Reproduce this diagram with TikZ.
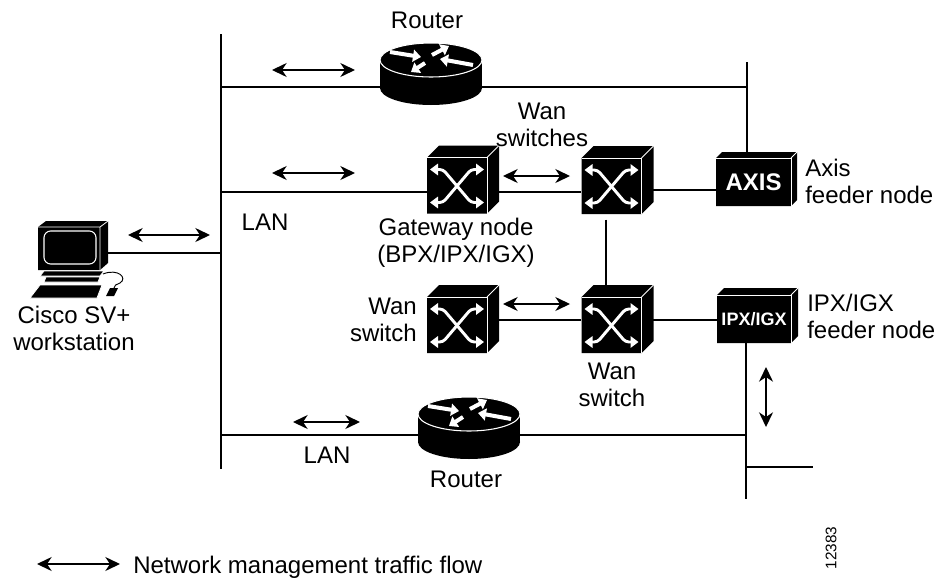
\documentclass[tikz,border=0pt]{standalone}
\usepackage{fontspec}
\setmainfont{Liberation Sans}
\usetikzlibrary{arrows.meta}
\pgfdeclarelayer{wires}
\pgfsetlayers{wires,main}

\tikzset{
  lan/.style={line width=0.9pt},
  trunk/.style={line width=2pt},
  flow/.style={line width=1.1pt,
    {Stealth[length=11pt,width=10.5pt,inset=3.5pt]}-{Stealth[length=11pt,width=10.5pt,inset=3.5pt]}},
  lbl/.style={font=\fontsize{18}{20}\selectfont, inner sep=0pt, align=center},
  devnode/.style 2 args={inner sep=0pt, minimum width=#1*0.75pt, minimum height=#2*0.75pt},
  faceedge/.style={white, line width=0.6pt},
  xarrow/.style={white, line width=2.2pt, rounded corners=2.5pt,
    {Triangle[length=6pt,width=8.5pt]}-{Triangle[length=6pt,width=8.5pt]}},
  rarrow/.style={white, line width=3pt, -{Triangle[length=6pt,width=9pt]}},
  % black box seen in perspective; origin at the centre of the front face
  pics/cube/.style n args={3}{code={
    \fill (-#1/2,-#2/2) -- ++(#3,-#3) -- ++(#1,0) -- ++(0,#2) -- ++(-#3,#3) -- ++(-#1,0) -- cycle;
    \draw[faceedge] (-#1/2,-#2/2) -- ++(#1,0) -- ++(0,#2);
    \draw[faceedge] (#1/2,-#2/2) -- ++(#3,-#3);
  }},
  % WAN switch: cube with the crossed arrows on its front
  pics/xswitch/.style={code={
    \path pic {cube={60}{56}{12}};
    \draw[xarrow] (-27,-16) -- (-14,-16) -- (14,17) -- (27,17);
    \draw[xarrow] (27,-16) -- (14,-16) -- (-14,17) -- (-27,17);
  }},
  % router: flat cylinder with four arrows on the lid
  pics/router/.style={code={
    \fill (0,14) ellipse [x radius=51, y radius=17];
    \fill (-51,-14) rectangle (51,14);
    \filldraw[draw=white, line width=0.8pt] (0,-14) ellipse [x radius=51, y radius=17];
    \draw[rarrow] (-41,-22) -- (-10,-17);
    \draw[rarrow] (1,-19) -- (18,-28);
    \draw[rarrow] (42,-9) -- (9,-15);
    \draw[rarrow] (-6,-11) -- (-20,-2);
  }},
}

\begin{document}
\begin{tikzpicture}[x=0.75pt,y=-0.75pt]
\useasboundingbox (0,0) rectangle (938,578);

% ---------- workstation ----------
\fill (38,227) -- (46,221) -- (108,221) -- (108,263) -- (100,270) -- (38,270) -- cycle;
\draw[faceedge] (38,227) -- (100,227) -- (100,270) (100,227) -- (108,221);
\draw[white, line width=0.8pt, rounded corners=5pt] (44,231) rectangle (96,264);
\filldraw[draw=white, line width=0.6pt] (40,276) -- (44,271) -- (104,271) -- (100,276) -- cycle;
\filldraw[draw=white, line width=0.6pt] (44,282) -- (46,277) -- (100,277) -- (98,282) -- cycle;
\filldraw[draw=white, line width=0.6pt] (30,298) -- (40,285) -- (102,285) -- (97,298) -- cycle;
\fill (106,296) -- (110,288) -- (118,288) -- (114,296) -- cycle;
\draw[line width=0.7pt] (103,274) .. controls (118,268) and (128,278) .. (120,283)
  .. controls (116,285) and (114,285) .. (114,288);
\node[devnode={70}{49}] (ws) at (73,245.5) {};

% ---------- routers ----------
\pic at (431,74) {router};
\node[devnode={102}{62}] (r1) at (431,74) {};
\pic at (469,428) {router};
\node[devnode={102}{62}] (r2) at (469,428) {};

% ---------- WAN switches ----------
\pic at (457,185.5) {xswitch};
\node[devnode={60}{56}] (gw) at (457,185.5) {};
\pic at (611.5,186) {xswitch};
\node[devnode={60}{56}] (sw2) at (611.5,186) {};
\pic at (611.5,325) {xswitch};
\node[devnode={60}{56}] (sw3) at (611.5,325) {};
\pic at (457,325) {xswitch};
\node[devnode={60}{56}] (sw4) at (457,325) {};

% ---------- feeder nodes ----------
\pic at (753.5,182) {cube={75}{48}{6}};
\node[devnode={75}{48}, text=white, font=\bfseries\fontsize{18}{18}\selectfont] (axis) at (753.5,182) {AXIS};
\pic at (754,319) {cube={74}{48}{7}};
\node[devnode={74}{48}, text=white, font=\bfseries\fontsize{13.5}{13.5}\selectfont] (ipx) at (754,319) {IPX/IGX};

% ---------- bus points ----------
\coordinate (lanT) at (221,34);
\coordinate (lanB) at (221,469);
\coordinate (bus1) at (221,87);
\coordinate (bus2) at (221,192);
\coordinate (bus3) at (221,253);
\coordinate (bus4) at (221,435);
\coordinate (rtop) at (747,62);
\coordinate (rbot) at (746,499);
\coordinate (stub) at (813,467);
\coordinate (axlink) at (716,190);
\coordinate (row3) at (0,320);
\coordinate (vx) at (606,250);

% ---------- connectors ----------
\begin{pgfonlayer}{wires}
  \draw[lan] (lanT) -- (lanB);
  \draw[lan] (bus3) -- (bus3 -| ws.east);
  \draw[lan] (bus1) -- (bus1 -| r1.west);
  \draw[lan] (bus1 -| r1.east) -- (bus1 -| rtop);
  \draw[lan] (rtop) -- (rtop |- axis.north);
  \draw[lan] (bus2) -- (bus2 -| gw.west);
  \draw[trunk] (bus2 -| gw.east) -- (bus2 -| sw2.west);
  \draw[lan] (axlink -| sw2.east) -- (axlink);
  \draw[trunk, shorten <=4pt] (vx |- sw2.south) -- (vx |- sw3.north);
  \draw[trunk] (row3 -| sw4.east) -- (row3 -| sw3.west);
  \draw[trunk] (row3 -| sw3.east) -- (row3 -| ipx.west);
  \draw[lan] (rbot |- ipx.south) -- (rbot);
  \draw[lan] (bus4) -- (bus4 -| r2.west);
  \draw[lan] (bus4 -| r2.east) -- (bus4 -| rbot);
  \draw[lan] (stub -| rbot) -- (stub);
\end{pgfonlayer}

% ---------- management traffic arrows ----------
\draw[flow] (272,70) -- (355,70);
\draw[flow] (272,173) -- (355,173);
\draw[flow] (128,235) -- (210,235);
\draw[flow] (503,176) -- (570,176);
\draw[flow] (503,304) -- (570,304);
\draw[flow] (293,422) -- (360,422);
\draw[flow] (766,367) -- (766,427);
\draw[flow] (37,564) -- (120,564);

% ---------- labels (base = baseline of the last line) ----------
\node[lbl, anchor=base] (tR1) at (427,28) {Router};
\node[lbl, anchor=base] (tWS) at (542,146) {Wan\\switches};
\node[lbl, anchor=base] (tGW) at (456,262) {Gateway node\\(BPX/IPX/IGX)};
\node[lbl, anchor=base] (tLAN1) at (265,230) {LAN};
\node[lbl, align=left, anchor=base west] (tAX) at (805,203) {Axis\\feeder node};
\node[lbl, align=left, anchor=base west] (tIPX) at (807,338) {IPX/IGX\\feeder node};
\node[lbl, align=right, anchor=base east] (tW4) at (417,341) {Wan\\switch};
\node[lbl, anchor=base] (tW3) at (612,406) {Wan\\switch};
\node[lbl, anchor=base] (tR2) at (466,487) {Router};
\node[lbl, anchor=base] (tLAN2) at (327,463) {LAN};
\node[lbl, anchor=base] (tCisco) at (74,350) {Cisco SV+\\workstation};
\node[lbl, anchor=base west] (tLeg) at (133,573) {Network management traffic flow};
\node[inner sep=0pt, rotate=90, font=\fontsize{11.5}{11.5}\selectfont] (tNum) at (831,548) {12383};
\end{tikzpicture}
\end{document}
